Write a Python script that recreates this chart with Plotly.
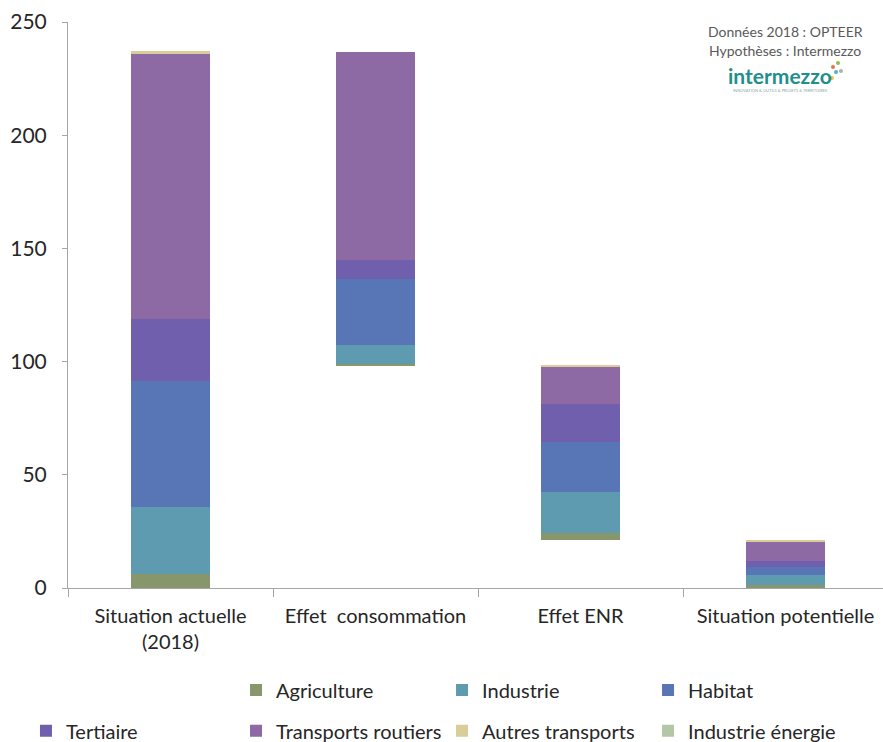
import plotly.graph_objects as go

categories = ["Situation actuelle<br>(2018)", "Effet  consommation", "Effet ENR", "Situation potentielle"]
base = [0, 98.0, 21.2, 0]
agriculture = [6.2, 1.0, 3.0, 1.2]
industrie = [29.5, 8.2, 18.2, 4.5]
habitat = [55.6, 29.4, 21.9, 3.7]
tertiaire = [27.7, 8.3, 16.8, 2.7]
transports_routiers = [116.9, 91.9, 16.7, 8.4]
autres_transports = [1.3, 0.0, 0.3, 0.7]
industrie_energie = [0.0, 0.0, 0.0, 0.0]

series = [
    ("Agriculture", agriculture, "#87966b"),
    ("Industrie", industrie, "#5e9bb0"),
    ("Habitat", habitat, "#5876b5"),
    ("Tertiaire", tertiaire, "#6f5fad"),
    ("Transports routiers", transports_routiers, "#8e6aa5"),
    ("Autres transports", autres_transports, "#d9cd9a"),
    ("Industrie énergie", industrie_energie, "#b3c6a6"),
]
# legend slot (container x of legend box left, container y of row centre)
legend_pos = [(0.2673, 0.070), (0.5006, 0.070), (0.7339, 0.070),
              (0.0294, 0.015), (0.2673, 0.015), (0.5006, 0.015), (0.7339, 0.015)]

FONT = "Lato, 'Open Sans', sans-serif"
TXT = "#262626"

fig = go.Figure()
fig.add_trace(go.Bar(x=categories, y=base, marker=dict(color="rgba(0,0,0,0)", line=dict(width=0)),
                     showlegend=False, hoverinfo="skip"))
legends = {}
for i, ((name, vals, color), (lx, ly)) in enumerate(zip(series, legend_pos)):
    key = "legend" if i == 0 else f"legend{i+1}"
    fig.add_trace(go.Bar(x=categories, y=vals, name=name,
                         marker=dict(color=color, line=dict(width=0)), legend=key))
    legends[key] = dict(orientation="h", x=lx, xref="container", xanchor="left",
                        y=ly, yref="container", yanchor="middle",
                        font=dict(family=FONT, size=20, color=TXT), bgcolor="rgba(0,0,0,0)")

fig.update_layout(
    barmode="stack",
    bargap=0.61,
    width=883, height=742,
    margin=dict(l=68, r=0, t=22, b=154),
    plot_bgcolor="white", paper_bgcolor="white",
    font=dict(family=FONT, size=20, color=TXT),
    xaxis=dict(range=[-0.5, 3.4756], showline=True, linecolor="#a6a6a6", linewidth=1,
               ticks="outside", tickson="boundaries", ticklen=8, tickcolor="#a6a6a6",
               showgrid=False, tickfont=dict(size=20, color=TXT), ticklabelstandoff=10,
               automargin=False),
    yaxis=dict(range=[0, 250], dtick=50, showline=True, linecolor="#a6a6a6", linewidth=1,
               ticks="outside", ticklen=5, tickcolor="#a6a6a6", showgrid=False, zeroline=False,
               tickfont=dict(size=21, color=TXT), ticklabelstandoff=11, automargin=False),
    **legends,
)

ann_font = dict(family=FONT, size=14, color="#595959")
fig.add_annotation(text="Données 2018 : OPTEER", xref="paper", yref="paper", x=0.880, y=0.984,
                   xanchor="center", yanchor="middle", showarrow=False, font=ann_font)
fig.add_annotation(text="Hypothèses : Intermezzo", xref="paper", yref="paper", x=0.880, y=0.949,
                   xanchor="center", yanchor="middle", showarrow=False, font=ann_font)
fig.add_annotation(text="<b>intermezzo</b>", xref="paper", yref="paper", x=0.874, y=0.905,
                   xanchor="center", yanchor="middle", showarrow=False,
                   font=dict(family=FONT, size=21, color="#1f8f8c"))
fig.add_annotation(text="INNOVATION & OUTILS & PROJETS & TERRITOIRES", xref="paper", yref="paper",
                   x=0.874, y=0.879, xanchor="center", yanchor="middle", showarrow=False,
                   font=dict(family=FONT, size=4, color="#8aa"))
for cx, cy, c in [(833, 67, "#e8734a"), (838, 63, "#8cc152"), (836, 72, "#4fb3c8"),
                  (841, 71, "#b0b0b0"), (832, 78, "#f2c14e")]:
    fx = (cx - 68) / 815
    fy = (588 - cy) / 566
    fig.add_shape(type="circle", xref="paper", yref="paper",
                  x0=fx - 2 / 815, x1=fx + 2 / 815, y0=fy - 2 / 566, y1=fy + 2 / 566,
                  fillcolor=c, line=dict(width=0))

fig.write_html("out.html", config={"displayModeBar": False},
               post_script="document.body.style.margin='0';document.body.style.padding='0';")
